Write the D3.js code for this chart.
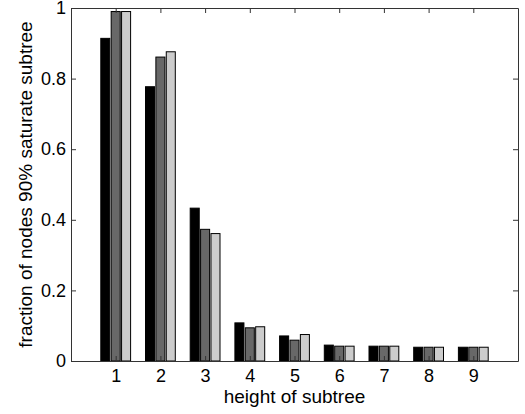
<!DOCTYPE html>
<html>
<head>
<meta charset="utf-8">
<script src="https://cdn.jsdelivr.net/npm/d3@7"></script>
<style>
  body { margin: 0; background: #fff; }
  svg { display: block; font-family: "Liberation Sans", Arial, sans-serif; }
</style>
</head>
<body>
<div id="chart"></div>
<script>
// heights of subtree (categories)
const heights = [1, 2, 3, 4, 5, 6, 7, 8, 9];
// three series
const seriesBlack = [0.914, 0.777, 0.433, 0.108, 0.071, 0.045, 0.042, 0.039, 0.039];
const seriesDark  = [0.990, 0.861, 0.373, 0.094, 0.059, 0.042, 0.042, 0.039, 0.039];
const seriesLight = [0.990, 0.876, 0.361, 0.097, 0.075, 0.042, 0.042, 0.039, 0.039];
const yTicks = [0, 0.2, 0.4, 0.6, 0.8, 1];
const yTickLabels = ["0", "0.2", "0.4", "0.6", "0.8", "1"];

const seriesList = [seriesBlack, seriesDark, seriesLight];
const fills = ["#000000", "#686868", "#cccccc"];

const margin = { top: 8, right: 7, bottom: 53, left: 71 };
const width = 525 - margin.left - margin.right;
const height = 414 - margin.top - margin.bottom;

const svg = d3.select("#chart")
    .append("svg")
    .attr("width", 525)
    .attr("height", 414)
    .append("g")
    .attr("transform", `translate(${margin.left},${margin.top})`);

const x = d3.scaleLinear().domain([0, 10]).range([0, width]);
const y = d3.scaleLinear().domain([0, 1]).range([height, 0]);

// position of each bar inside its group
const unit = x(1) - x(0);
const xSub = d3.scaleBand()
    .domain(d3.range(seriesList.length))
    .range([-unit / 3, unit / 3])
    .paddingInner(0.13);

// bars
const rows = heights.map((h, i) => seriesList.map((s, k) => ({ h: h, k: k, v: s[i] })));
svg.selectAll(".group")
    .data(rows)
    .enter()
    .append("g")
    .attr("class", "group")
    .attr("transform", d => `translate(${x(d[0].h)},0)`)
    .selectAll("rect")
    .data(d => d)
    .enter()
    .append("rect")
    .attr("x", d => xSub(d.k))
    .attr("width", xSub.bandwidth())
    .attr("y", d => y(d.v))
    .attr("height", d => y(0) - y(d.v))
    .attr("fill", d => fills[d.k])
    .attr("stroke", "#000")
    .attr("stroke-width", 1);

// axes (box with inward ticks)
const tickLen = 5;
const axisColor = "#333";

const bottomAxis = svg.append("g")
    .attr("transform", `translate(0,${height})`)
    .call(d3.axisBottom(x).tickValues(heights).tickSizeInner(-tickLen).tickSizeOuter(0).tickPadding(8));
const topAxis = svg.append("g")
    .call(d3.axisTop(x).tickValues(heights).tickSizeInner(-tickLen).tickSizeOuter(0).tickFormat(""));
const leftAxis = svg.append("g")
    .call(d3.axisLeft(y).tickValues(yTicks).tickSizeInner(-tickLen).tickSizeOuter(0)
        .tickPadding(5).tickFormat((d, i) => yTickLabels[i]));
const rightAxis = svg.append("g")
    .attr("transform", `translate(${width},0)`)
    .call(d3.axisRight(y).tickValues(yTicks).tickSizeInner(-tickLen).tickSizeOuter(0).tickFormat(""));

[bottomAxis, topAxis, leftAxis, rightAxis].forEach(g => {
    g.select(".domain").attr("stroke", axisColor);
    g.selectAll(".tick line").attr("stroke", axisColor);
    g.selectAll(".tick text")
        .attr("fill", "#000")
        .style("font-size", "18px")
        .style("font-family", "'Liberation Sans', Arial, sans-serif");
});

// axis titles
svg.append("text")
    .attr("x", width / 2)
    .attr("y", height + 42)
    .attr("text-anchor", "middle")
    .style("font-size", "19px")
    .text("height of subtree");

svg.append("text")
    .attr("transform", `translate(${-39},${height / 2}) rotate(-90)`)
    .attr("text-anchor", "middle")
    .style("font-size", "19px")
    .text("fraction of nodes 90% saturate subtree");
</script>
</body>
</html>
